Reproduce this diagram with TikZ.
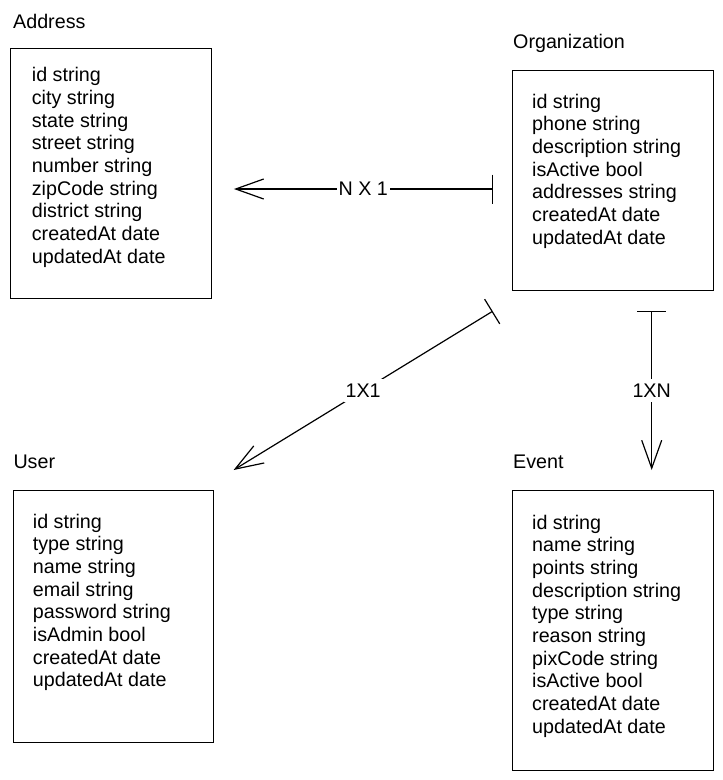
\documentclass[tikz,border=0pt]{standalone}
\usepackage{fontspec}
\setmainfont{Liberation Sans}
\usetikzlibrary{arrows.meta,calc}

\begin{document}
\begin{tikzpicture}[x=1pt,y=-1pt,
	entity/.style={draw,line width=1.2pt,anchor=north west,inner sep=0pt},
	heading/.style={anchor=base west,inner sep=0pt,font=\fontsize{19.7}{22.7}\selectfont},
	field/.style={anchor=base west,inner sep=0pt,font=\fontsize{19.7}{22.7}\selectfont},
	link/.style={line width=1.2pt,{Bar[width=29pt]}-{Straight Barb[length=28pt,width=20pt]}},
	cardinality/.style={fill=white,inner xsep=2pt,inner ysep=5pt,font=\fontsize{19.7}{22.7}\selectfont}]
	\useasboundingbox (0,0) rectangle (723,780);

	% Address
	\node[entity,minimum width=201pt,minimum height=250pt] (address) at (10,48) {};
	\node[heading] (address-title) at ($(address.north west)+(3,-19.5)$) {Address};
	\foreach \f [count=\i] in {id string,city string,state string,street string,number string,zipCode string,district string,createdAt date,updatedAt date}
		\node[field] (address-\i) at ($(address.north west)+(21.7,11+22.7*\i)$) {\f};

	% Organization
	\node[entity,minimum width=201pt,minimum height=220pt] (organization) at (512,70) {};
	\node[heading] (organization-title) at ($(organization.north west)+(1,-21.7)$) {Organization};
	\foreach \f [count=\i] in {id string,phone string,description string,isActive bool,addresses string,createdAt date,updatedAt date}
		\node[field] (organization-\i) at ($(organization.north west)+(20,15.3+22.7*\i)$) {\f};

	% User
	\node[entity,minimum width=200pt,minimum height=252pt] (user) at (12.7,490) {};
	\node[heading] (user-title) at ($(user.north west)+(0.6,-21.7)$) {User};
	\foreach \f [count=\i] in {id string,type string,name string,email string,password string,isAdmin bool,createdAt date,updatedAt date}
		\node[field] (user-\i) at ($(user.north west)+(20,15.3+22.7*\i)$) {\f};

	% Event
	\node[entity,minimum width=201pt,minimum height=280pt] (event) at (512,490) {};
	\node[heading] (event-title) at ($(event.north west)+(1,-21.7)$) {Event};
	\foreach \f [count=\i] in {id string,name string,points string,description string,type string,reason string,pixCode string,isActive bool,createdAt date,updatedAt date}
		\node[field] (event-\i) at ($(event.north west)+(20,16.3+22.7*\i)$) {\f};

	% Relations
	\coordinate (nx1-from) at ($(organization.north west)+(-19.3,119)$);
	\coordinate (nx1-to) at ($(address.north east)+(21.7,141)$);
	\draw[link] (nx1-from) -- node[cardinality] (nx1) {N X 1} (nx1-to);

	\coordinate (1x1-from) at ($(organization.south west)+(-19.3,20)$);
	\coordinate (1x1-to) at ($(user.north east)+(19.7,-20)$);
	\draw[link] (1x1-from) -- node[cardinality] (1x1) {1X1} (1x1-to);

	\coordinate (1xn-from) at ($(organization.south west)+(139.7,20)$);
	\coordinate (1xn-to) at ($(event.north west)+(139.7,-20)$);
	\draw[link] (1xn-from) -- node[cardinality] (1xn) {1XN} (1xn-to);
\end{tikzpicture}
\end{document}
